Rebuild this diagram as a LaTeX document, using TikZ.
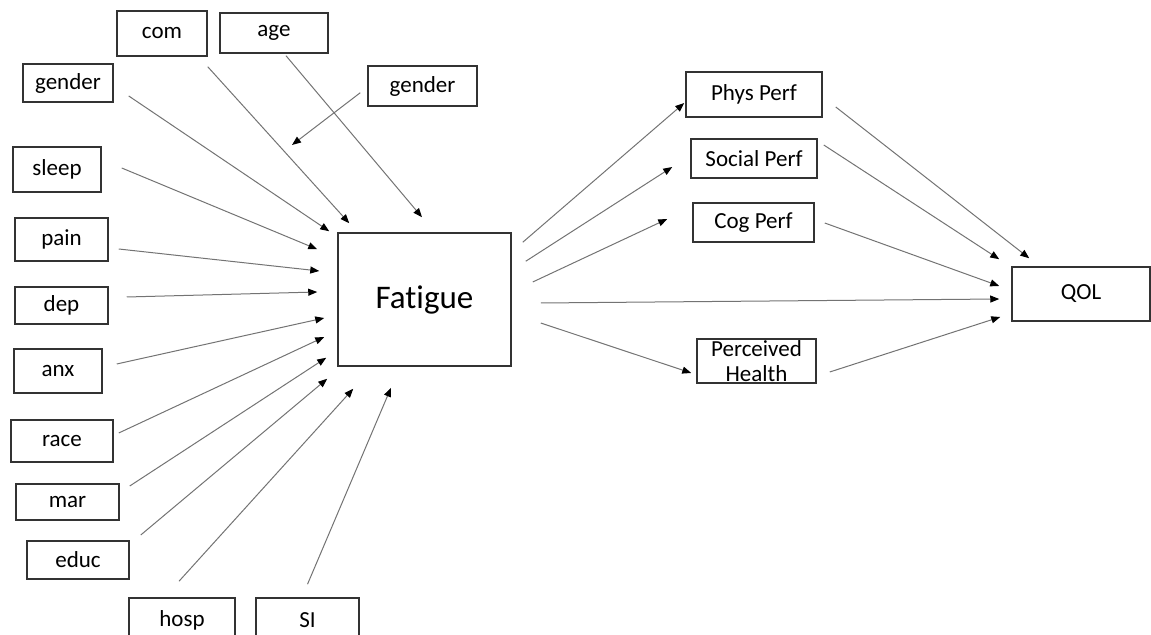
\documentclass[tikz,border=0pt]{standalone}
\usepackage{fontspec}
\setmainfont{Carlito}[Ligatures=NoCommon]
\usetikzlibrary{shapes,arrows.meta}
\usetikzlibrary{positioning}

\begin{document}
\begin{tikzpicture}[x=.5pt,y=-.5pt,
    box/.style={draw=black!80,line width=.75pt,inner sep=0pt,
        font=\fontsize{11.5}{12.5}\selectfont},
    link/.style={draw=black!55,line width=.5pt,
        -{Triangle[length=4.5pt,width=3.5pt,color=black]}}]
    \useasboundingbox (0,0) rectangle (1151,635);
    \clip (0,0) rectangle (1151,635);
    % predictors
    \node[box,minimum width=45pt,minimum height=22.5pt] (com) at (162,33.5) {com};
    \node[box,minimum width=54pt,minimum height=20pt] (age) at (274,33) {age};
    \node[box,minimum width=45pt,minimum height=19pt] (genderL) at (68,83) {gender};
    \node[box,minimum width=54.5pt,minimum height=20pt] (genderR) at (422.5,86) {gender};
    \node[box,minimum width=44pt,minimum height=22.5pt] (sleep) at (57,169.5) {sleep};
    \node[box,minimum width=46.5pt,minimum height=21.5pt] (pain) at (61.5,239.5) {pain};
    \node[box,minimum width=46.5pt,minimum height=18.5pt] (dep) at (61.5,305.5) {dep};
    \node[box,minimum width=44pt,minimum height=22pt] (anx) at (58,371) {anx};
    \node[box,minimum width=51pt,minimum height=21pt] (race) at (62,441) {race};
    \node[box,minimum width=51.5pt,minimum height=18pt] (mar) at (67.5,502) {mar};
    \node[box,minimum width=51pt,minimum height=19pt] (educ) at (78,560) {educ};
    \node[box,minimum width=53pt,minimum height=22.5pt] (hosp) at (182,620.5) {hosp};
    \node[box,minimum width=51.5pt,minimum height=22.5pt] (SI) at (307.5,620.5) {SI};
    % outcomes
    \node[box,minimum width=86.5pt,minimum height=66.5pt,
        font=\fontsize{16.5}{19}\selectfont] (fat) at (424.5,299.5) {Fatigue};
    \node[box,minimum width=68pt,minimum height=22.5pt] (phys) at (754,94.5) {Phys Perf};
    \node[box,minimum width=63pt,minimum height=19.5pt] (social) at (754,158.5) {Social Perf};
    \node[box,minimum width=60.5pt,minimum height=19.5pt] (cog) at (753.5,222.5) {Cog Perf};
    \node[box,minimum width=59.5pt,minimum height=22pt,align=center] (perc) at (756.5,361) {Perceived\\Health};
    \node[box,minimum width=69pt,minimum height=27pt] (qol) at (1081,294) {QOL};
    \coordinate (mod) at (292,145);

    \draw[link] ([shift={(15,13)}]genderL.east) -- ([shift={(-8,-1)}]fat.north west);
    \draw[link] ([shift={(0,10)}]com.south east) -- ([shift={(12,-9)}]fat.north west);
    \draw[link] ([shift={(12,2)}]age.south) -- ([shift={(-2.5,-15)}]fat.north);
    \draw[link] ([shift={(-7,-14)}]genderR.south west) -- (mod);
    \draw[link] ([shift={(20,-1.5)}]sleep.east) -- ([shift={(-20,17)}]fat.north west);
    \draw[link] ([shift={(10,9.5)}]pain.east) -- ([shift={(-18,-28.5)}]fat.west);
    \draw[link] ([shift={(18,-8.5)}]dep.east) -- ([shift={(-20,-7.5)}]fat.west);
    \draw[link] ([shift={(14,-7)}]anx.east) -- ([shift={(-13,18.5)}]fat.west);
    \draw[link] ([shift={(5,-8)}]race.east) -- ([shift={(-13,37.5)}]fat.west);
    \draw[link] ([shift={(10,-16)}]mar.east) -- ([shift={(-11,-9)}]fat.south west);
    \draw[link] ([shift={(11,-25)}]educ.east) -- ([shift={(-10,12)}]fat.south west);
    \draw[link] ([shift={(-3,-16)}]hosp.north) -- ([shift={(16,22)}]fat.south west);
    \draw[link] ([shift={(0,-13)}]SI.north) -- ([shift={(-33.5,21)}]fat.south);

    \draw[link] ([shift={(11,10)}]fat.north east) -- ([shift={(-1,8.5)}]phys.west);
    \draw[link] ([shift={(14,29)}]fat.north east) -- ([shift={(-18,8.5)}]social.west);
    \draw[link] ([shift={(21,-17.5)}]fat.east) -- ([shift={(-25,-3.5)}]cog.west);
    \draw[link] ([shift={(29,3.5)}]fat.east) -- ([shift={(-12,5)}]qol.west);
    \draw[link] ([shift={(29,23.5)}]fat.east) -- ([shift={(-5,12)}]perc.west);

    \draw[link] ([shift={(13,12.5)}]phys.east) -- ([shift={(18,-8)}]qol.north west);
    \draw[link] ([shift={(6,-13.5)}]social.east) -- ([shift={(-12,-7)}]qol.north west);
    \draw[link] ([shift={(10,.5)}]cog.east) -- ([shift={(-12,-8)}]qol.west);
    \draw[link] ([shift={(13,11)}]perc.east) -- ([shift={(-11,23)}]qol.west);
\end{tikzpicture}
\end{document}
